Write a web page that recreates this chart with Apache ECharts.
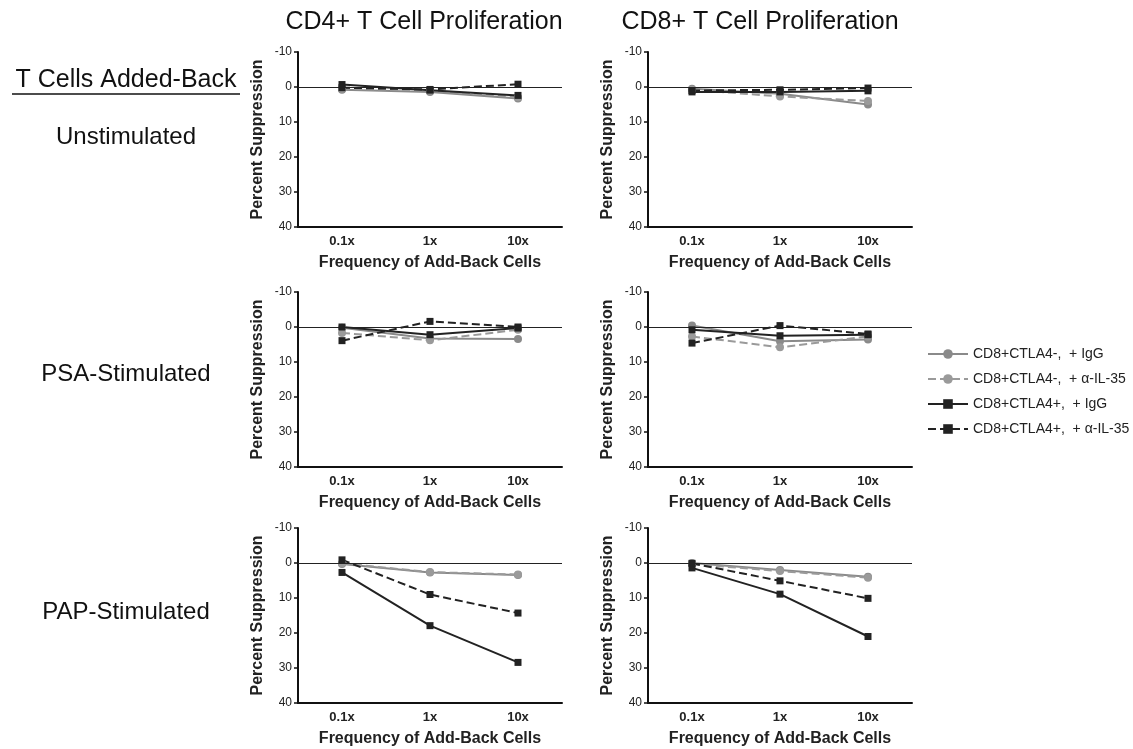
<!DOCTYPE html>
<html>
<head>
<meta charset="utf-8">
<script src="https://cdn.jsdelivr.net/npm/echarts@6/dist/echarts.min.js"></script>
<style>
  html, body { margin: 0; padding: 0; background: #fff; }
  #main { width: 1133px; height: 749px; }
</style>
</head>
<body>
<div id="main"></div>
<script>
var myChart = echarts.init(document.getElementById('main'));

var categories = ['0.1x', '1x', '10x'];
var yTicks = [-10, 0, 10, 20, 30, 40];
var seriesNames = [
    'CD8+CTLA4-,  + IgG',
    'CD8+CTLA4-,  + \u03b1-IL-35',
    'CD8+CTLA4+,  + IgG',
    'CD8+CTLA4+,  + \u03b1-IL-35'
];

// one array per panel, rows in seriesNames order
var cd4Unstim = [[0.8, 1.4, 3.3], [0.5, 1.0, 2.9], [-0.7, 0.9, 2.4], [0.2, 0.7, -0.8]];
var cd8Unstim = [[0.5, 1.9, 5.0], [0.8, 2.7, 4.0], [1.4, 1.4, 1.1], [1.0, 0.8, 0.3]];
var cd4Psa    = [[0.2, 3.3, 3.4], [1.7, 3.8, 0.8], [0.0, 2.2, 0.3], [3.9, -1.6, 0.0]];
var cd8Psa    = [[-0.4, 4.1, 3.6], [2.7, 5.8, 2.7], [0.8, 2.5, 2.2], [4.6, -0.4, 2.0]];
var cd4Pap    = [[0.3, 2.7, 3.4], [0.1, 2.6, 3.3], [2.7, 17.9, 28.4], [-0.9, 9.0, 14.3]];
var cd8Pap    = [[0.0, 2.0, 3.9], [0.3, 2.3, 4.2], [1.4, 8.9, 21.0], [0.1, 5.1, 10.1]];

var panels = [cd4Unstim, cd8Unstim, cd4Psa, cd8Psa, cd4Pap, cd8Pap];

var font = 'Arial, "Liberation Sans", Helvetica, sans-serif';
var lefts = [298, 648];
var tops = [52, 292, 528];

var styles = [
    {color: '#8a8a8a', type: 'solid',  symbol: 'circle', size: 8},
    {color: '#9a9a9a', type: 'dashed', symbol: 'circle', size: 8},
    {color: '#222222', type: 'solid',  symbol: 'rect',   size: 7},
    {color: '#222222', type: 'dashed', symbol: 'rect',   size: 7}
];

var grids = [], xAxes = [], yAxes = [], series = [];
for (var p = 0; p < panels.length; p++) {
    grids.push({left: lefts[p % 2], top: tops[Math.floor(p / 2)], width: 264, height: 175});
    xAxes.push({
        gridIndex: p,
        type: 'category',
        data: categories,
        boundaryGap: true,
        position: 'bottom',
        axisLine: {onZero: false, lineStyle: {color: '#111', width: 2}},
        axisTick: {show: false},
        axisLabel: {fontSize: 13, fontWeight: 'bold', color: '#222', margin: 8, fontFamily: font},
        name: 'Frequency of Add-Back Cells',
        nameLocation: 'middle',
        nameGap: 28,
        nameTextStyle: {fontSize: 16, fontWeight: 'bold', color: '#222', fontFamily: font}
    });
    yAxes.push({
        gridIndex: p,
        type: 'value',
        inverse: true,
        min: yTicks[0],
        max: yTicks[yTicks.length - 1],
        interval: 10,
        name: 'Percent Suppression',
        nameLocation: 'middle',
        nameGap: 32,
        nameTextStyle: {fontSize: 16, fontWeight: 'bold', color: '#222', fontFamily: font},
        axisLine: {show: true, lineStyle: {color: '#111', width: 2}},
        axisTick: {show: true, length: 4, lineStyle: {color: '#111', width: 1.5}},
        axisLabel: {fontSize: 12, color: '#222', margin: 6, fontFamily: font},
        splitLine: {show: false}
    });
    for (var s = 0; s < 4; s++) {
        var st = styles[s];
        var item = {
            name: seriesNames[s],
            type: 'line',
            xAxisIndex: p,
            yAxisIndex: p,
            data: panels[p][s],
            symbol: st.symbol,
            symbolSize: st.size,
            showAllSymbol: true,
            lineStyle: {color: st.color, width: 2, type: st.type},
            itemStyle: {color: st.color},
            animation: false
        };
        if (s === 0) {
            item.markLine = {
                silent: true,
                symbol: 'none',
                label: {show: false},
                lineStyle: {color: '#222', width: 1, type: 'solid'},
                data: [{yAxis: 0}],
                animation: false
            };
        }
        series.push(item);
    }
}

function label(text, x, y, size) {
    return {
        type: 'text', x: x, y: y,
        style: {
            text: text, font: size + 'px ' + font, fill: '#111',
            align: 'center', verticalAlign: 'middle',
            textAlign: 'center', textVerticalAlign: 'middle'
        }
    };
}

option = {
    backgroundColor: '#fff',
    textStyle: {fontFamily: font},
    grid: grids,
    xAxis: xAxes,
    yAxis: yAxes,
    legend: {
        orient: 'vertical',
        left: 922,
        top: 342,
        itemWidth: 40,
        itemHeight: 12,
        itemGap: 11,
        data: seriesNames,
        textStyle: {fontSize: 14, color: '#222', fontFamily: font}
    },
    graphic: [
        label('CD4+ T Cell Proliferation', 424, 22, 25),
        label('CD8+ T Cell Proliferation', 760, 22, 25),
        label('T Cells Added-Back', 126, 80, 25),
        {type: 'line', shape: {x1: 12, y1: 94, x2: 240, y2: 94}, style: {stroke: '#111', lineWidth: 1.5}},
        label('Unstimulated', 126, 137, 24),
        label('PSA-Stimulated', 126, 374, 24),
        label('PAP-Stimulated', 126, 612, 24)
    ],
    series: series
};

myChart.setOption(option);
</script>
</body>
</html>
